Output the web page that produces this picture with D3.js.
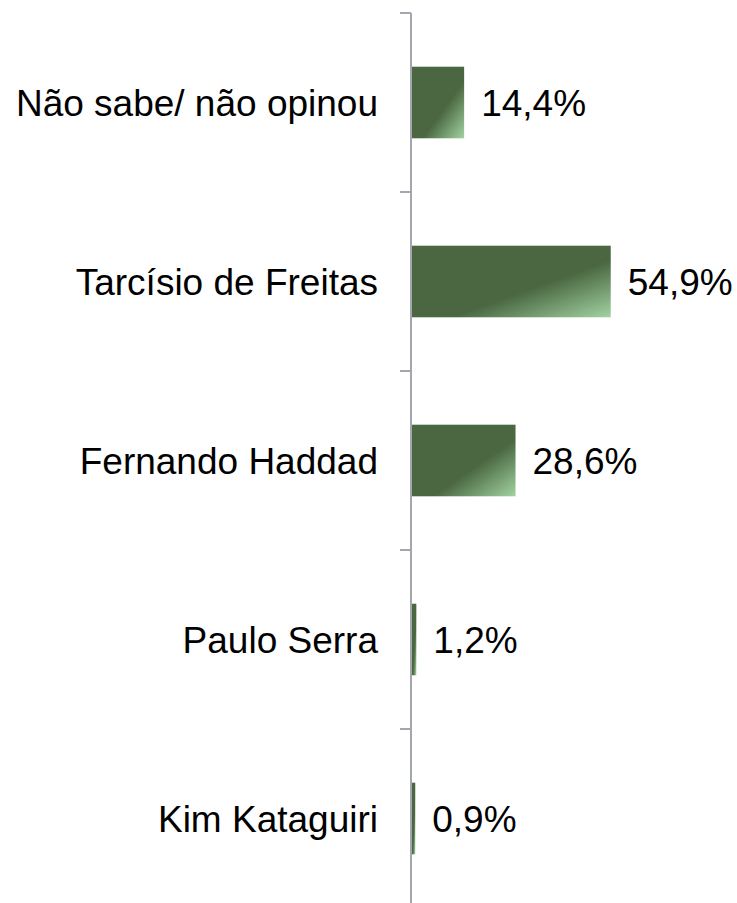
<!DOCTYPE html>
<html>
  <meta charset="utf-8" />
  <script src="https://d3js.org/d3.v7.min.js"></script>
  <style>
    body { margin: 0; background: #fff; }
    text { font-family: "Liberation Sans", Arial, sans-serif; fill: #000; }
  </style>
  <body>
    <div id="chart"></div>
    <script>
      // data
      const categories = ["Não sabe/ não opinou", "Tarcísio de Freitas", "Fernando Haddad", "Paulo Serra", "Kim Kataguiri"];
      const values = [14.4, 54.9, 28.6, 1.2, 0.9];
      const valueLabels = ["14,4%", "54,9%", "28,6%", "1,2%", "0,9%"];

      const W = 737, H = 903;
      const axisX = 411, plotTop = 13, bandH = 179;

      const svg = d3.select("#chart").append("svg")
        .attr("width", W).attr("height", H);

      const grad = svg.append("defs").append("linearGradient")
        .attr("id", "barGrad")
        .attr("x1", "0").attr("y1", "0").attr("x2", "1").attr("y2", "1");
      grad.append("stop").attr("offset", "0").attr("stop-color", "#4a6741");
      grad.append("stop").attr("offset", "0.6").attr("stop-color", "#4a6741");
      grad.append("stop").attr("offset", "1").attr("stop-color", "#a2d3a2");

      const y = d3.scaleBand()
        .domain(categories)
        .range([plotTop, plotTop + bandH * categories.length])
        .paddingInner(0.6).paddingOuter(0.3);

      const x = d3.scaleLinear().domain([0, 10]).range([axisX, axisX + 36.2]);

      // axis line and ticks between categories
      const axis = svg.append("g");
      axis.append("line")
        .attr("x1", axisX).attr("x2", axisX)
        .attr("y1", plotTop).attr("y2", plotTop + bandH * categories.length)
        .attr("stroke", "#a3a6ad").attr("stroke-width", 2);
      axis.selectAll("line.tick")
        .data(d3.range(categories.length + 1))
        .join("line")
        .attr("class", "tick")
        .attr("x1", axisX - 11).attr("x2", axisX)
        .attr("y1", i => plotTop + i * bandH).attr("y2", i => plotTop + i * bandH)
        .attr("stroke", "#a3a6ad").attr("stroke-width", 2);

      const rows = categories.map((c, i) => ({ cat: c, value: values[i], label: valueLabels[i] }));

      svg.append("g").selectAll("rect")
        .data(rows)
        .join("rect")
        .attr("x", axisX + 1)
        .attr("y", d => y(d.cat))
        .attr("width", d => x(d.value) - axisX)
        .attr("height", y.bandwidth())
        .attr("fill", "url(#barGrad)");

      svg.append("g").selectAll("text")
        .data(rows)
        .join("text")
        .attr("x", 378)
        .attr("y", d => y(d.cat) + y.bandwidth() / 2)
        .attr("dy", "0.36em")
        .attr("text-anchor", "end")
        .attr("font-size", 37)
        .text(d => d.cat);

      svg.append("g").selectAll("text")
        .data(rows)
        .join("text")
        .attr("x", d => x(d.value) + 18)
        .attr("y", d => y(d.cat) + y.bandwidth() / 2)
        .attr("dy", "0.36em")
        .attr("font-size", 37)
        .text(d => d.label);
    </script>
  </body>
</html>
